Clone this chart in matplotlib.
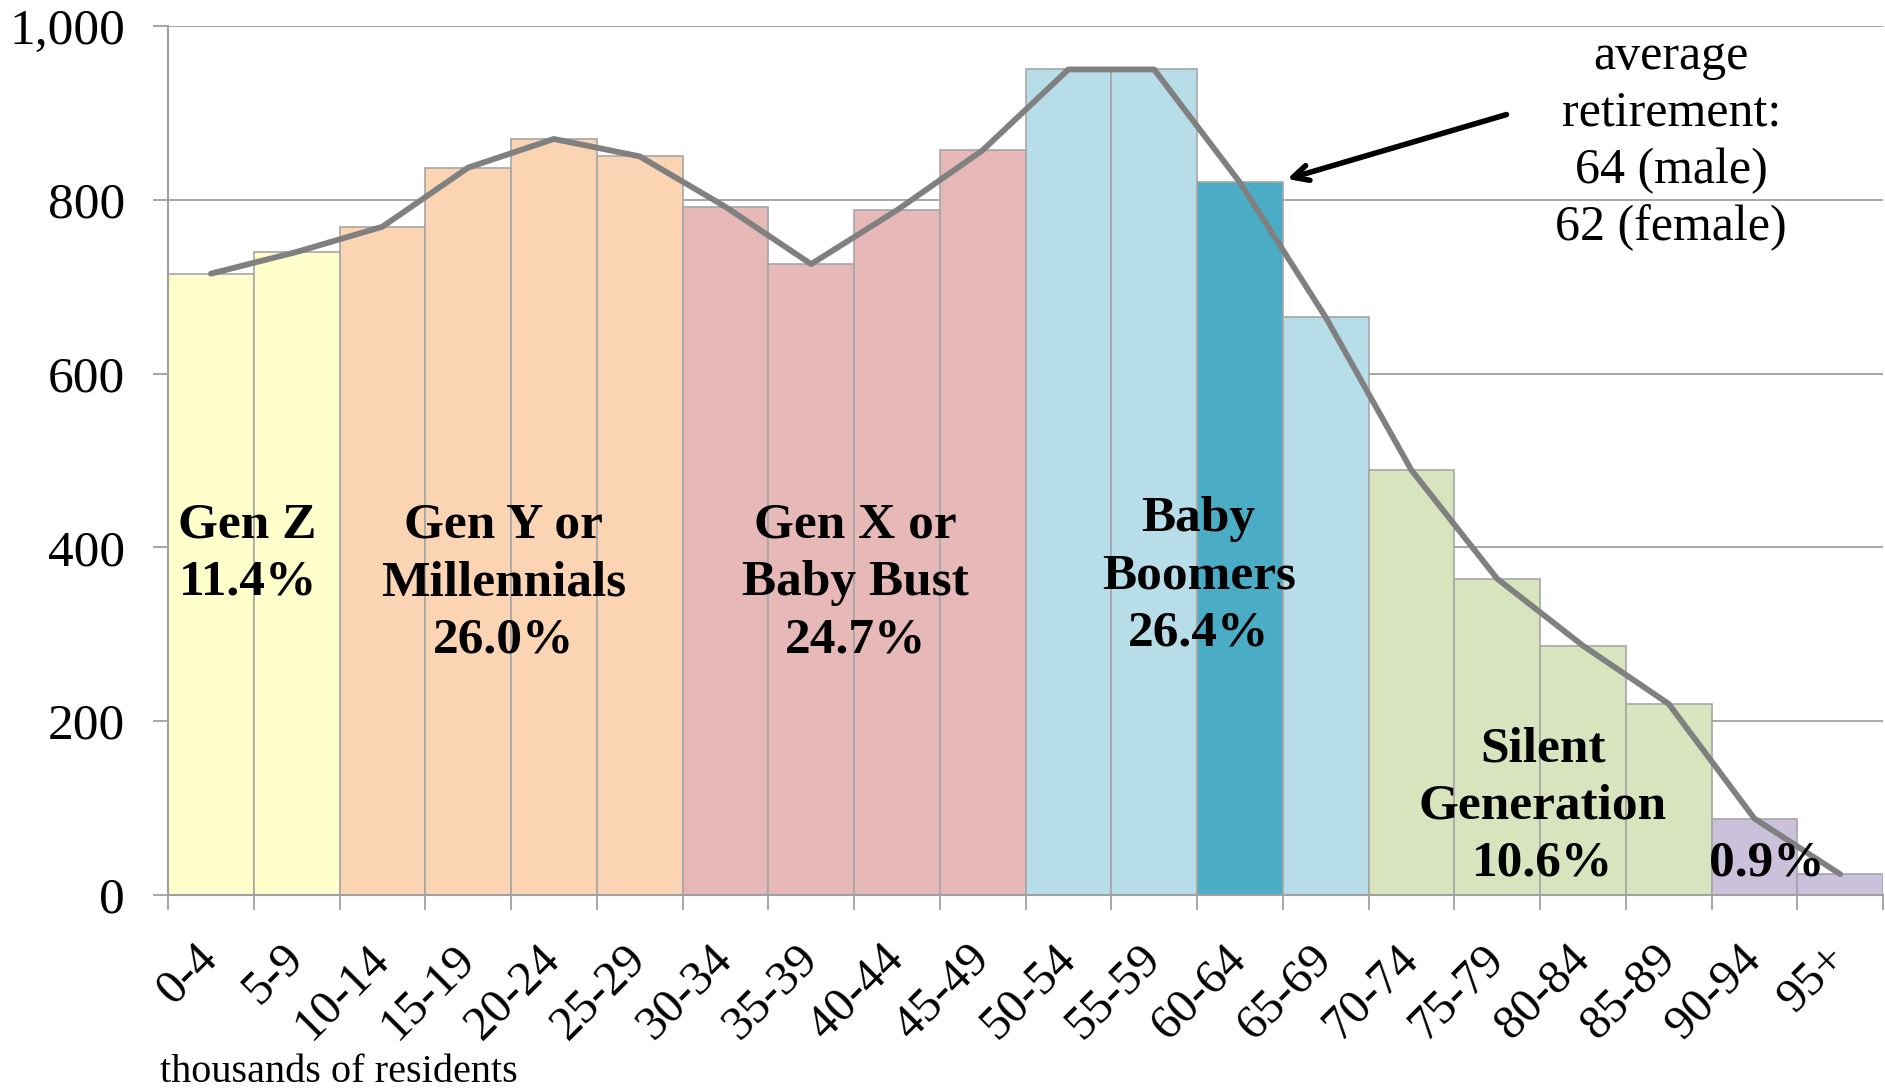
import matplotlib
matplotlib.use("Agg")
import matplotlib.pyplot as plt
import numpy as np

plt.rcParams['font.family'] = ['Liberation Serif', 'DejaVu Serif']

age_groups = ["0-4", "5-9", "10-14", "15-19", "20-24", "25-29", "30-34", "35-39",
              "40-44", "45-49", "50-54", "55-59", "60-64", "65-69", "70-74", "75-79",
              "80-84", "85-89", "90-94", "95+"]
residents = [715, 740, 769, 837, 870, 850, 792, 726, 788, 857,
             950, 950, 820, 665, 489, 364, 287, 220, 88, 24]
generation = ["Z", "Z", "Y", "Y", "Y", "Y", "X", "X", "X", "X",
              "B", "B", "R", "B", "S", "S", "S", "S", "O", "O"]
gen_colors = {"Z": "#FFFFCC", "Y": "#FBD4B4", "X": "#E6B8B7", "B": "#B7DEE8",
              "R": "#4BACC6", "S": "#D7E4BD", "O": "#CCC1DA"}
gen_labels = ["Gen Z\n11.4%", "Gen Y or\nMillennials\n26.0%", "Gen X or\nBaby Bust\n24.7%",
              "Baby\nBoomers\n26.4%", "Silent\nGeneration\n10.6%", "0.9%"]
gen_label_x = [0.43, 3.41, 7.52, 11.52, 15.53, 18.14]
gen_label_y = [392, 359, 359, 367, 102, 36]
y_ticks = [0, 200, 400, 600, 800, 1000]

fig = plt.figure(figsize=(18.85, 10.9), dpi=100)
ax = fig.add_axes([168/1885, 1-895/1090, (1883-168)/1885, (895-26)/1090])

x = np.arange(len(age_groups))
ax.bar(x, residents, width=1.0, color=[gen_colors[g] for g in generation],
       edgecolor="#A6A6A6", linewidth=1.2, zorder=2)
ax.plot(x, residents, color="#808080", lw=4.2, zorder=3, solid_capstyle='round')

ax.set_xlim(-0.5, len(age_groups) - 0.5)
ax.set_ylim(0, 1000)
ax.set_yticks(y_ticks)
ax.set_yticklabels([f"{v:,}" for v in y_ticks], fontsize=37)
ax.yaxis.grid(True, color="#A0A0A0", lw=1.3, zorder=0)
ax.set_axisbelow(True)

ax.set_xticks(x)
ax.set_xticklabels(age_groups, rotation=45, ha='right', va='center',
                   rotation_mode='anchor', fontsize=35)
ax.set_xticks(np.arange(-0.5, len(age_groups)), minor=True)
ax.tick_params(axis='x', which='major', length=0, pad=41)
ax.tick_params(axis='x', which='minor', length=11, color="#A0A0A0", width=1.3)
ax.tick_params(axis='y', length=11, color="#A0A0A0", width=1.3, pad=20)

for s in ['top', 'right']:
    ax.spines[s].set_visible(False)
for s in ['left', 'bottom']:
    ax.spines[s].set_color("#A0A0A0")
    ax.spines[s].set_linewidth(1.5)

for lab, lx, ly in zip(gen_labels, gen_label_x, gen_label_y):
    ax.text(lx, ly, lab, ha='center', va='center', fontsize=37, fontweight='bold',
            linespacing=1.32, zorder=4)

ax.text(17.03, 866, "average\nretirement:\n64 (male)\n62 (female)", ha='center', va='center',
        fontsize=36, linespacing=1.3, zorder=4)
ax.annotate("", xy=(12.52, 823), xytext=(15.14, 899),
            arrowprops=dict(arrowstyle='->,head_length=1.1,head_width=0.55', color='black', lw=4),
            zorder=5)

fig.text(160/1885, 1-1073/1090, "thousands of residents", ha='left', va='center', fontsize=29)

fig.savefig("out.png", dpi=100)
